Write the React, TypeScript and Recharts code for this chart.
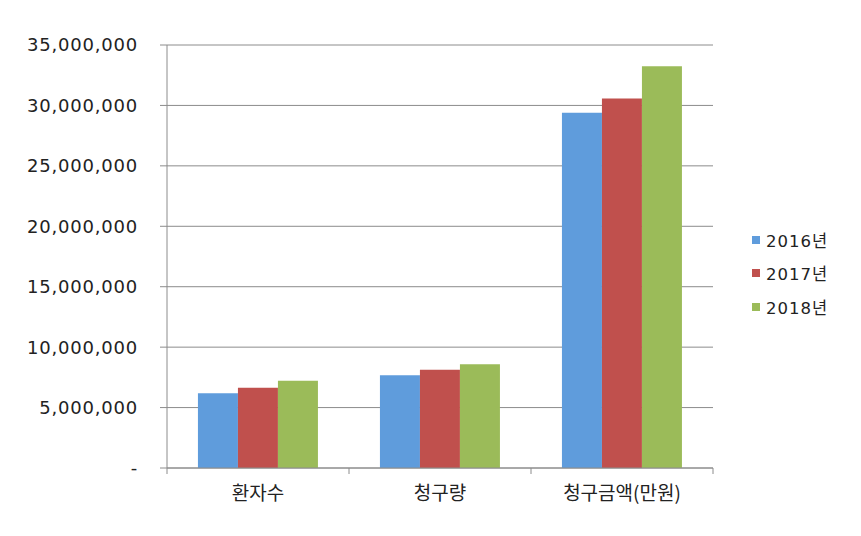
import React from "react";
import { BarChart, Bar, XAxis, YAxis, CartesianGrid } from "recharts";

const categories = ["환자수", "청구량", "청구금액(만원)"];
const seriesNames = ["2016년", "2017년", "2018년"];
const values2016 = [6180000, 7670000, 29390000];
const values2017 = [6640000, 8130000, 30580000];
const values2018 = [7220000, 8580000, 33250000];
const yTicks = [0, 5000000, 10000000, 15000000, 20000000, 25000000, 30000000, 35000000];
const colors = ["#5f9cdc", "#c0504d", "#9bbb59"];

const data = categories.map((c, i) => ({
  name: c,
  y2016: values2016[i],
  y2017: values2017[i],
  y2018: values2018[i],
}));
const keys = ["y2016", "y2017", "y2018"];

const W = 861;
const H = 536;
const M = { top: 45, right: 148, bottom: 38, left: 0 };
const Y_W = 167;
const PLOT_W = W - M.left - M.right - Y_W;
const AXIS = "#8c8c8c";
const FONT = "'DejaVu Sans', 'Noto Sans CJK KR', sans-serif";

const fmt = (v: number) => (v === 0 ? "-" : v.toLocaleString("en-US"));

const CatTick = (props: any) => {
  const { x, y, payload, index } = props;
  const half = PLOT_W / categories.length / 2;
  return (
    <g>
      <line x1={x - half} y1={y} x2={x - half} y2={y + 6} stroke={AXIS} />
      {index === categories.length - 1 && (
        <line x1={x + half} y1={y} x2={x + half} y2={y + 6} stroke={AXIS} />
      )}
      <text
        x={x}
        y={y + 32}
        textAnchor="middle"
        fontSize={19}
        fill="#222"
        fontFamily="'Noto Sans CJK KR', sans-serif"
      >
        {payload.value}
      </text>
    </g>
  );
};

const LegendBox = () => (
  <div
    style={{
      position: "absolute",
      left: 752,
      top: 223,
      width: 110,
      fontFamily: FONT,
      fontSize: 16.5,
      color: "#222",
    }}
  >
    {seriesNames.map((n, i) => (
      <div key={n} style={{ display: "flex", alignItems: "center", height: 33.5 }}>
        <span
          style={{
            display: "inline-block",
            width: 8,
            height: 8,
            background: colors[i],
            marginRight: 6,
          }}
        />
        <span style={{ letterSpacing: 1 }}>{n}</span>
      </div>
    ))}
  </div>
);

export default function App() {
  return (
    <div style={{ position: "absolute", left: 0, top: 0, width: W, height: H, background: "#fff" }}>
      <BarChart width={W} height={H} data={data} margin={M} barCategoryGap="17%" barGap={0}>
        <CartesianGrid vertical={false} stroke={AXIS} strokeWidth={1} />
        <XAxis
          dataKey="name"
          stroke={AXIS}
          tickLine={false}
          tickSize={0}
          tickMargin={0}
          height={30}
          tick={<CatTick />}
          interval={0}
        />
        <YAxis
          width={Y_W}
          domain={[0, 35000000]}
          ticks={yTicks}
          interval={0}
          tickFormatter={fmt}
          stroke={AXIS}
          tickSize={7}
          tickMargin={22}
          tick={{ fill: "#222", fontSize: 18, fontFamily: FONT, letterSpacing: 0.8 }}
        />
        {keys.map((k, i) => (
          <Bar key={k} dataKey={k} name={seriesNames[i]} fill={colors[i]} isAnimationActive={false} />
        ))}
      </BarChart>
      <LegendBox />
    </div>
  );
}
